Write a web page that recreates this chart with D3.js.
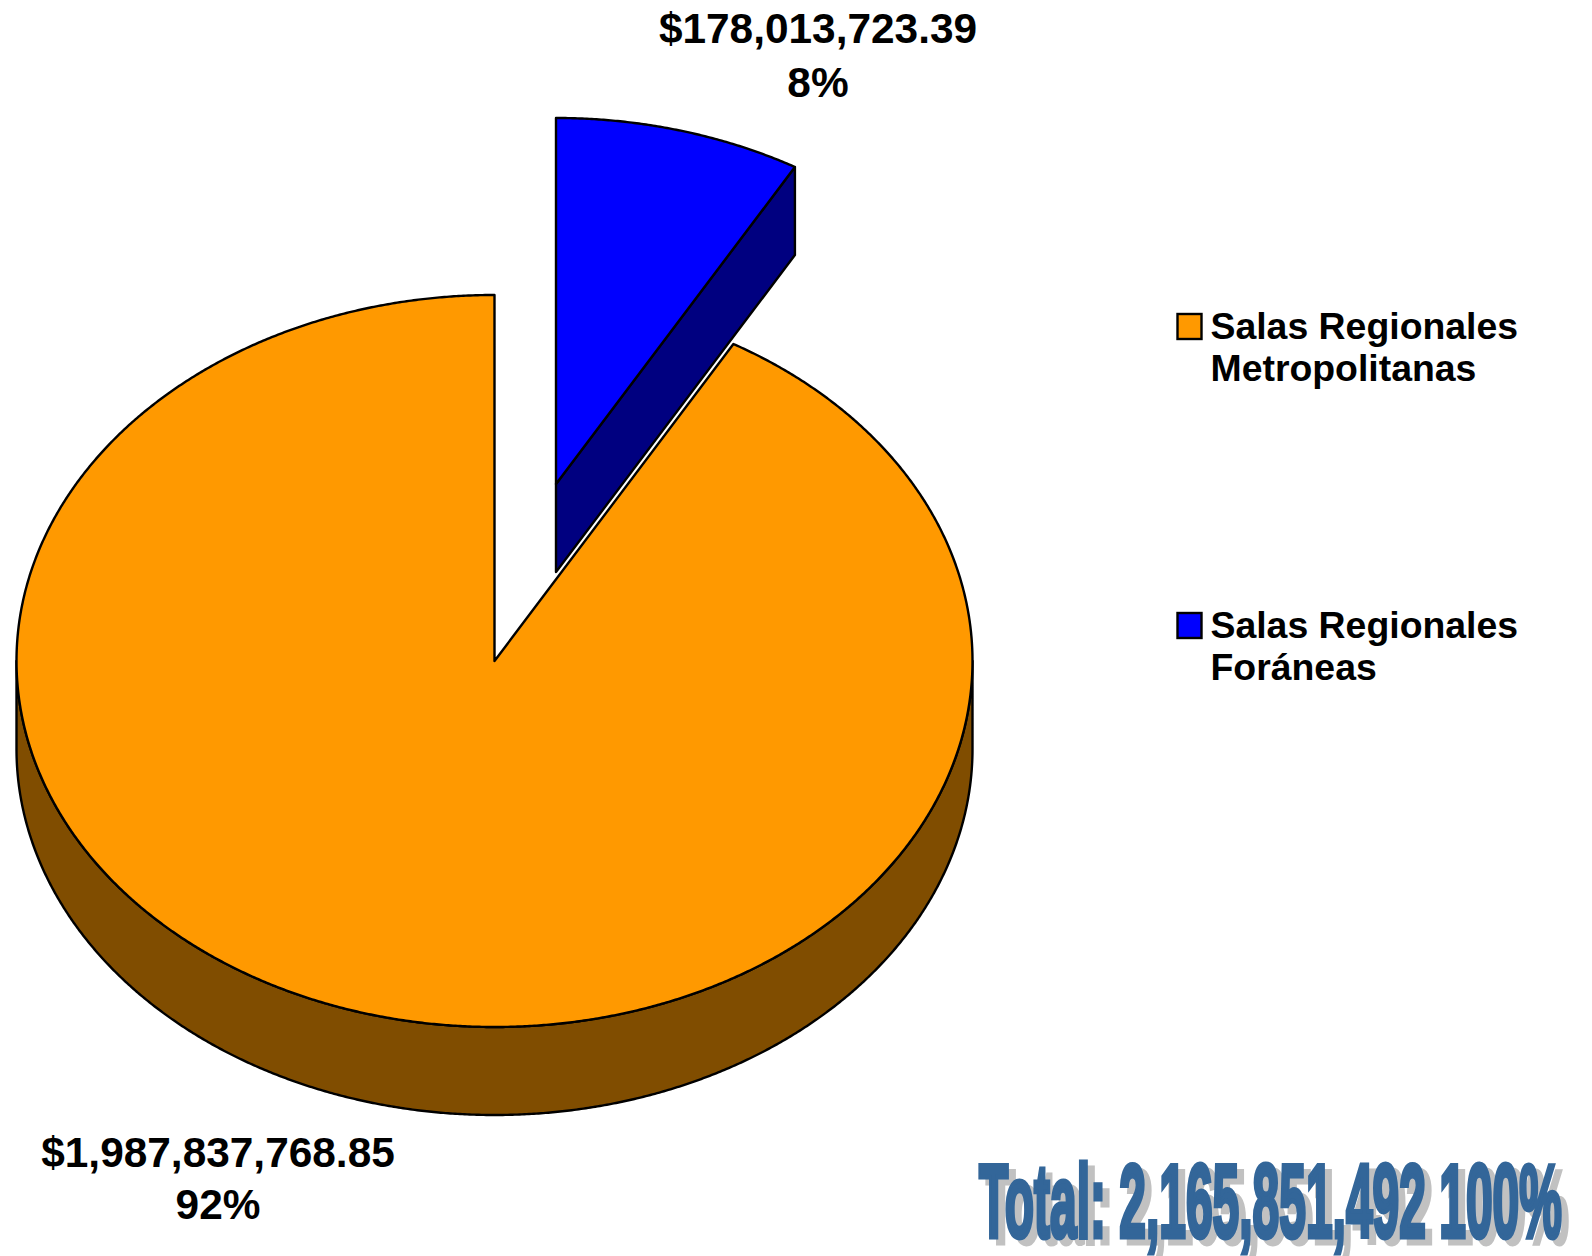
<!DOCTYPE html>
<html>
<head>
<meta charset="utf-8">
<script src="https://cdn.jsdelivr.net/npm/d3@7/dist/d3.min.js"></script>
<style>
html,body{margin:0;padding:0;background:#fff;}
svg{display:block;}
text{font-family:"Liberation Sans",Arial,sans-serif;font-weight:bold;fill:#000;}
</style>
</head>
<body>
<script>
const categories = ["Salas Regionales Metropolitanas", "Salas Regionales Foráneas"];
const legendLines = [["Salas Regionales", "Metropolitanas"], ["Salas Regionales", "Foráneas"]];
const valueLabels = ["$1,987,837,768.85", "$178,013,723.39"];
const percentLabels = ["92%", "8%"];
// Share of the disc each slice occupies in the picture (the smaller slice spans 30 degrees)
const drawnShares = [91.67, 8.33];
const topColors = ["#FF9900", "#0000FF"];
const sideColors = ["#804D00", "#000080"];
const totalLabel = "Total: 2,165,851,492 100%";

const W = 1592, H = 1256;
const cx = 494.5, cy = 661, rx = 478, ry = 366, depth = 88;
const explode = [61.5, -177];

const svg = d3.select("body").append("svg").attr("width", W).attr("height", H);
const defs = svg.append("defs");
const pat = defs.append("pattern").attr("id", "dots").attr("width", 2).attr("height", 2)
  .attr("patternUnits", "userSpaceOnUse");
pat.append("rect").attr("width", 2).attr("height", 2).attr("fill", "#d8d8d8");
pat.append("rect").attr("width", 1).attr("height", 1).attr("fill", "#aaaaaa");
pat.append("rect").attr("x", 1).attr("y", 1).attr("width", 1).attr("height", 1).attr("fill", "#aaaaaa");

// Smallest slice starts at twelve o'clock, running clockwise
const pie = d3.pie().sort((a, b) => d3.ascending(a, b));
const arcs = pie(drawnShares);

const px = d3.scaleLinear().domain([-1, 1]).range([cx - rx, cx + rx]);
const py = d3.scaleLinear().domain([-1, 1]).range([cy - ry, cy + ry]);
const line = d3.line().curve(d3.curveLinear);
const onRim = (a, dx, dy) => [px(Math.sin(a)) + dx, py(-Math.cos(a)) + dy];
const samples = (a0, a1) => {
  const n = Math.max(2, Math.ceil(Math.abs(a1 - a0) / 0.005));
  return d3.range(n + 1).map(i => a0 + (a1 - a0) * i / n);
};
const stroke = g => g.attr("stroke", "#000").attr("stroke-width", 2.4).attr("stroke-linejoin", "round");

function drawSlice(i, dx, dy) {
  const a = arcs[i], g = svg.append("g").call(stroke);
  // outer wall: only the part of the rim on the lower half of the ellipse
  const lo = Math.max(a.startAngle, Math.PI / 2), hi = Math.min(a.endAngle, 3 * Math.PI / 2);
  if (hi > lo) {
    const top = samples(lo, hi).map(t => onRim(t, dx, dy));
    const bot = samples(hi, lo).map(t => onRim(t, dx, dy + depth));
    g.append("path").attr("d", line(top.concat(bot)) + "Z").attr("fill", sideColors[i]);
  }
  // cut face leaving the end of the slice, visible when the slice ends on the upper right
  if (a.endAngle < Math.PI / 2) {
    const rim = onRim(a.endAngle, dx, dy), c = [px(0) + dx, py(0) + dy];
    g.append("path").attr("d", line([rim, c, [c[0], c[1] + depth], [rim[0], rim[1] + depth]]) + "Z")
      .attr("fill", sideColors[i]);
  }
  const rim = samples(a.startAngle, a.endAngle).map(t => onRim(t, dx, dy));
  g.append("path").attr("d", line([[px(0) + dx, py(0) + dy], ...rim]) + "Z").attr("fill", topColors[i]);
}
drawSlice(0, 0, 0);
drawSlice(1, explode[0], explode[1]);

// Data labels
const labelPos = [[218, 1167, 1219], [818, 43, 97]];
valueLabels.forEach((v, i) => {
  svg.append("text").attr("x", labelPos[i][0]).attr("y", labelPos[i][1]).attr("text-anchor", "middle")
    .attr("font-size", 42.4).text(v);
  svg.append("text").attr("x", labelPos[i][0]).attr("y", labelPos[i][2]).attr("text-anchor", "middle")
    .attr("font-size", 42.4).text(percentLabels[i]);
});

// Legend
const legendY = d3.scalePoint().domain(categories).range([314, 613]);
categories.forEach((c, i) => {
  const y = legendY(c);
  svg.append("rect").attr("x", 1177.5).attr("y", y).attr("width", 24).attr("height", 25)
    .attr("fill", topColors[i]).attr("stroke", "#000").attr("stroke-width", 2.4);
  legendLines[i].forEach((t, j) => {
    svg.append("text").attr("x", 1210.5).attr("y", y + 25 + j * 42).attr("font-size", 37.4).text(t);
  });
});

// WordArt total: a heavy condensed title with a dotted grey shadow
const totalWidth = 588;
const total = (x, y, fill, sw) => {
  const t = svg.append("text").attr("font-size", 104)
    .attr("stroke", fill).attr("stroke-width", sw).attr("stroke-linejoin", "miter")
    .style("fill", fill).text(totalLabel);
  const sx = (totalWidth - sw) / t.node().getComputedTextLength();
  t.attr("transform", `translate(${x},${y}) scale(${sx},1)`);
};
total(986, 1243, "url(#dots)", 5);
total(979, 1237, "#336699", 5);
</script>
</body>
</html>
